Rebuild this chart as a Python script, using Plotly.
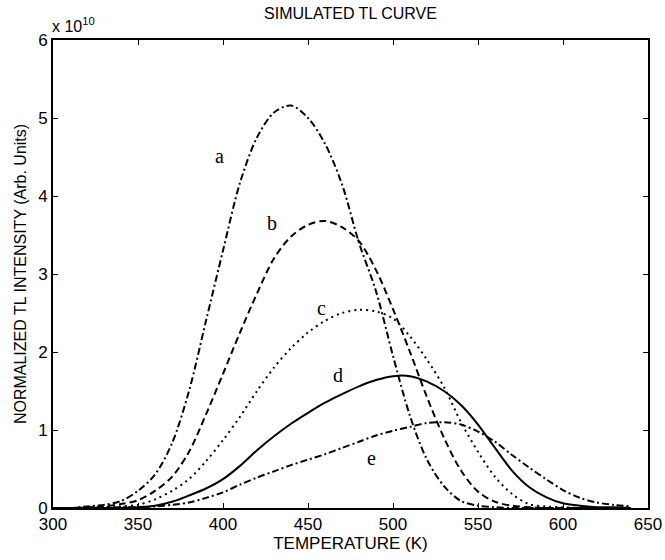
import plotly.graph_objects as go

# Temperature grid (K)
temperature = [300, 310, 320, 330, 340, 350, 360, 370, 380, 390, 400, 410, 420, 430, 440, 450,
               460, 470, 480, 490, 500, 510, 520, 530, 540, 550, 560, 570, 580, 590, 600, 610,
               620, 630, 640]

# Normalized TL intensity, in units of 1e10
curve_a = [0, 0, 0.02, 0.04, 0.09, 0.22, 0.43, 0.83, 1.5, 2.4, 3.3, 4.17, 4.75, 5.07, 5.16, 5.0,
           4.67, 4.15, 3.4, 2.78, 1.95, 1.18, 0.62, 0.28, 0.09, 0.03, 0.01, 0, 0, 0, 0, 0,
           0, 0, 0]
curve_b = [0, 0, 0.01, 0.02, 0.05, 0.1, 0.22, 0.4, 0.72, 1.2, 1.72, 2.25, 2.75, 3.2, 3.48, 3.63,
           3.68, 3.6, 3.42, 3.05, 2.55, 2.0, 1.42, 0.9, 0.48, 0.21, 0.08, 0.03, 0.01, 0, 0, 0,
           0, 0, 0]
curve_c = [0, 0, 0, 0.01, 0.02, 0.04, 0.11, 0.22, 0.37, 0.6, 0.87, 1.17, 1.5, 1.8, 2.05, 2.25,
           2.4, 2.5, 2.54, 2.52, 2.43, 2.2, 1.9, 1.55, 1.1, 0.72, 0.4, 0.18, 0.05, 0.02, 0.01, 0,
           0, 0, 0]
curve_d = [0, 0, 0, 0, 0, 0.01, 0.03, 0.08, 0.16, 0.25, 0.37, 0.54, 0.74, 0.92, 1.08, 1.22,
           1.35, 1.46, 1.56, 1.64, 1.69, 1.69, 1.62, 1.5, 1.32, 1.07, 0.77, 0.48, 0.27, 0.14, 0.06, 0.03,
           0.01, 0.01, 0]
curve_e = [0, 0, 0, 0, 0.01, 0.01, 0.02, 0.04, 0.07, 0.13, 0.2, 0.3, 0.39, 0.47, 0.55, 0.62,
           0.69, 0.77, 0.85, 0.93, 0.99, 1.04, 1.09, 1.1, 1.07, 0.98, 0.85, 0.68, 0.52, 0.37, 0.23, 0.13,
           0.07, 0.04, 0.02]

series_names = ["a", "b", "c", "d", "e"]
series_values = [curve_a, curve_b, curve_c, curve_d, curve_e]
series_dash = ["7px,3px,2px,3px", "7px,4px", "2px,4px", "solid", "7px,3px,2px,3px"]

# Curve label positions (temperature, intensity)
label_x = [398, 428.6, 458, 467.8, 487.5]
label_y = [4.51, 3.65, 2.56, 1.71, 0.64]

x_ticks = [300, 350, 400, 450, 500, 550, 600, 650]
y_ticks = [0, 1, 2, 3, 4, 5, 6]

fig = go.Figure()
for name, vals, dash in zip(series_names, series_values, series_dash):
    fig.add_trace(go.Scatter(
        x=temperature, y=vals, mode="lines", name=name,
        line=dict(color="black", width=2, dash=dash, shape="spline", smoothing=0.9),
        showlegend=False,
    ))

for name, lx, ly in zip(series_names, label_x, label_y):
    fig.add_annotation(x=lx, y=ly, text=name, showarrow=False,
                       font=dict(family="Liberation Serif", size=20, color="black"))

fig.add_annotation(xref="paper", yref="paper", x=0, y=1, xanchor="left", yanchor="bottom",
                   text="x 10<sup>10</sup>", showarrow=False, yshift=3, xshift=-3,
                   font=dict(family="Liberation Sans", size=16, color="black"))

axis_common = dict(
    showline=True, linecolor="black", linewidth=2, mirror="ticks",
    ticks="inside", ticklen=5, tickwidth=1, tickcolor="black",
    showgrid=False, zeroline=False, automargin=False,
    tickfont=dict(family="Liberation Sans", size=17, color="black"),
)

fig.update_layout(
    width=665, height=560,
    margin=dict(l=53, r=17, t=40, b=52),
    paper_bgcolor="white", plot_bgcolor="white",
    title=dict(text="SIMULATED TL CURVE", x=0.527, xanchor="center", y=0.976, yanchor="middle",
               font=dict(family="Liberation Sans", size=16, color="black")),
    xaxis=dict(range=[300, 650], tickvals=x_ticks, ticktext=[str(v) for v in x_ticks],
               title=dict(text="TEMPERATURE (K)", standoff=4,
                          font=dict(family="Liberation Sans", size=17, color="black")),
               **axis_common),
    yaxis=dict(range=[0, 6], tickvals=y_ticks, ticktext=[str(v) for v in y_ticks],
               title=dict(text="NORMALIZED TL INTENSITY (Arb. Units)", standoff=8,
                          font=dict(family="Liberation Sans", size=16, color="black")),
               **axis_common),
)

fig.write_html("out.html", config={"displayModeBar": False},
               post_script="document.body.style.margin='0';")
